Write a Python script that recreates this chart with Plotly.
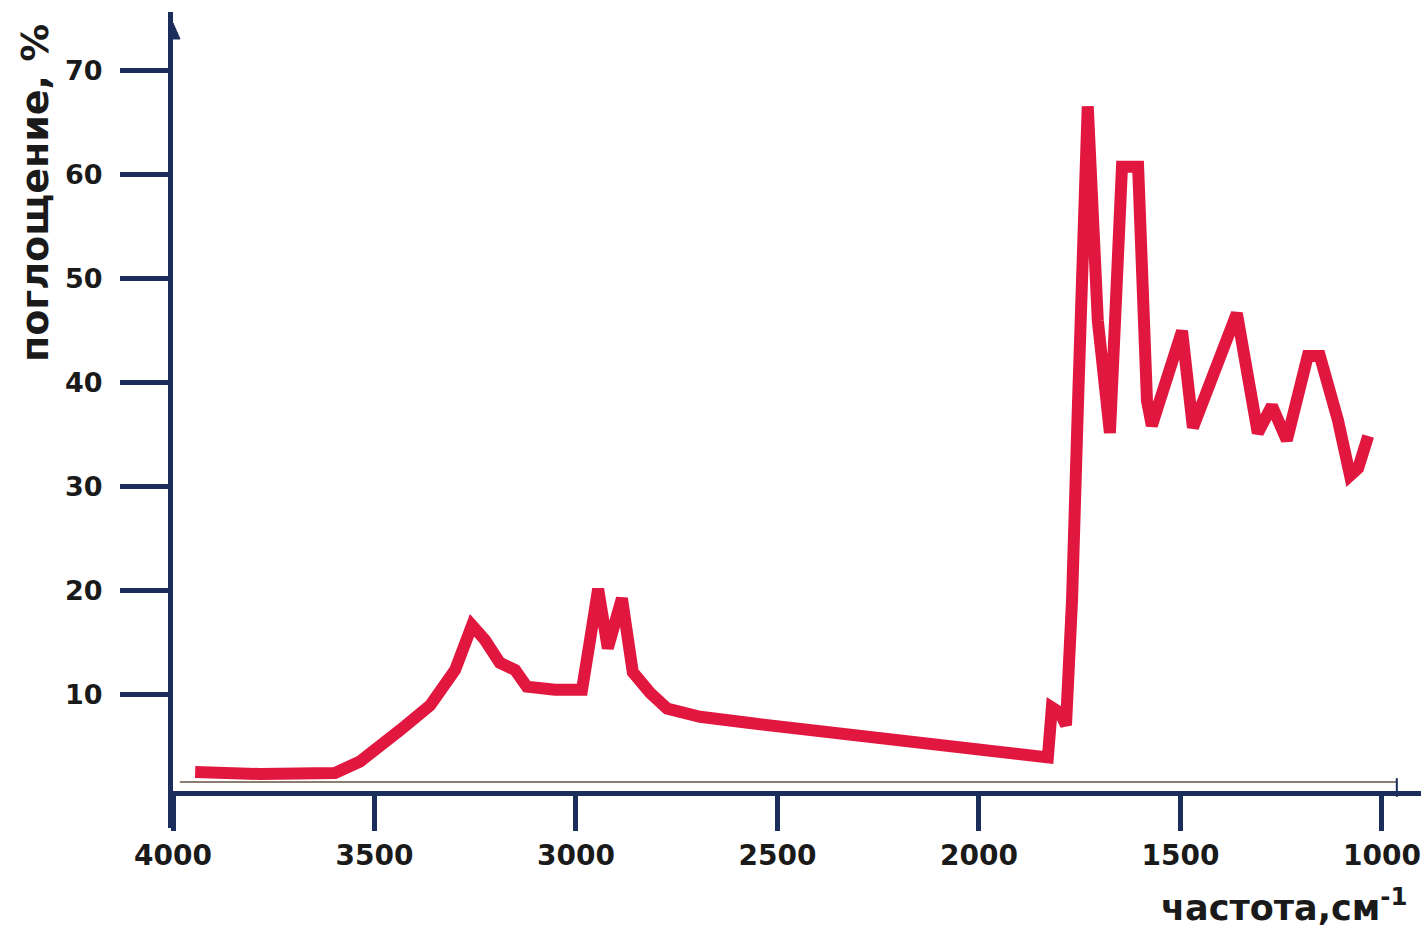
import plotly.graph_objects as go

# Spectrum data (wavenumber, cm^-1 ; absorption, %)
wavenumber = [3945, 3784, 3598, 3536, 3437, 3362, 3300, 3258, 3226, 3189, 3151, 3122,
              3052, 2985, 2965, 2945, 2921, 2886, 2859, 2816, 2774, 2692, 2568, 2320,
              2072, 1829, 1819, 1799, 1784, 1769, 1754, 1730, 1705, 1675, 1660, 1645,
              1605, 1583, 1571, 1538, 1496, 1469, 1414, 1360, 1308, 1273, 1236, 1184,
              1154, 1109, 1079, 1059, 1034]
absorption = [2.6, 2.4, 2.5, 3.6, 6.6, 9.0, 12.4, 16.7, 15.3, 13.1, 12.4, 10.8,
              10.5, 10.5, 15.3, 20.2, 14.5, 19.3, 12.2, 10.2, 8.7, 7.9, 7.3, 6.1,
              5.1, 4.0, 8.8, 8.3, 7.1, 19.1, 38.3, 66.6, 46.0, 35.2, 47.9, 60.8,
              60.8, 38.3, 35.9, 40.2, 45.0, 35.7, 41.2, 46.7, 35.2, 37.8, 34.5, 42.6,
              42.6, 36.4, 31.1, 31.8, 34.9]

x_ticks = [4000, 3500, 3000, 2500, 2000, 1500, 1000]
y_ticks = [10, 20, 30, 40, 50, 60, 70]

x_title = "частота,см<sup>-1</sup>"
y_title = "поглощение, %"

NAVY = "#1b2d5a"
RED = "#e2173f"
FONT = "DejaVu Sans"

fig = go.Figure()
fig.add_trace(go.Scatter(
    x=wavenumber, y=absorption, mode="lines",
    line=dict(color=RED, width=12),
    hoverinfo="skip", showlegend=False,
))

W, H = 1421, 935
L, R, T, B = 173, 0, 12, 107
plot_h = H - T - B
plot_w = W - L - R

fig.update_layout(
    width=W, height=H,
    margin=dict(l=L, r=R, t=T, b=B, pad=0, autoexpand=False),
    paper_bgcolor="white", plot_bgcolor="white",
    showlegend=False,
    font=dict(family=FONT, color="#1a1a1a"),
)

fig.update_xaxes(
    range=[4000, 903],
    tickvals=x_ticks, ticktext=[str(v) for v in x_ticks],
    ticks="outside", ticklen=35, tickwidth=5, tickcolor=NAVY,
    showline=True, linecolor=NAVY, linewidth=5,
    showgrid=False, zeroline=False, automargin=False,
    ticklabeloverflow="allow",
    anchor="free", position=(828 - 793) / plot_h,
    tickfont=dict(family=FONT, size=28, color="#1a1a1a", weight="bold"),
)
fig.update_yaxes(
    range=[-2.79, 75.67],
    tickvals=y_ticks, ticktext=[str(v) for v in y_ticks],
    ticks="outside", ticklen=48, tickwidth=5, tickcolor=NAVY,
    showline=True, linecolor=NAVY, linewidth=5,
    showgrid=False, zeroline=False, automargin=False,
    ticklabelstandoff=12,
    tickfont=dict(family=FONT, size=27, color="#1a1a1a", weight="bold"),
)

# thin baseline frame line above the x axis
fig.add_shape(type="line", xref="x", yref="y", x0=3983, x1=963, y0=1.63, y1=1.63,
              line=dict(color="#8b7d70", width=2))
fig.add_shape(type="line", xref="x", yref="y", x0=963, x1=963, y0=0.2, y1=2.0,
              line=dict(color=NAVY, width=2))

# arrowhead at top of y axis
fig.add_shape(type="path", xref="x", yref="y",
              xsizemode="pixel", ysizemode="pixel", xanchor=4000, yanchor=73.65,
              path="M -7,-6 L 7,-6 L 0,10 Z",
              fillcolor=NAVY, line=dict(color=NAVY, width=1))

# axis titles
fig.add_annotation(xref="paper", yref="paper",
                   x=(1410 - L) / plot_w, y=-(930 - (H - B)) / plot_h,
                   xanchor="right", yanchor="bottom", showarrow=False,
                   text=x_title,
                   font=dict(family=FONT, size=35, color="#1a1a1a", weight="bold"))
fig.add_annotation(xref="paper", yref="paper",
                   x=-(L - 35) / plot_w, y=1 - (193 - T) / plot_h,
                   xanchor="center", yanchor="middle", showarrow=False,
                   textangle=-90, text=y_title,
                   font=dict(family=FONT, size=38, color="#1a1a1a", weight="bold"))

fig.write_html("out.html",
               config={"displayModeBar": False},
               post_script="document.body.style.margin='0';document.body.style.overflow='hidden';")
